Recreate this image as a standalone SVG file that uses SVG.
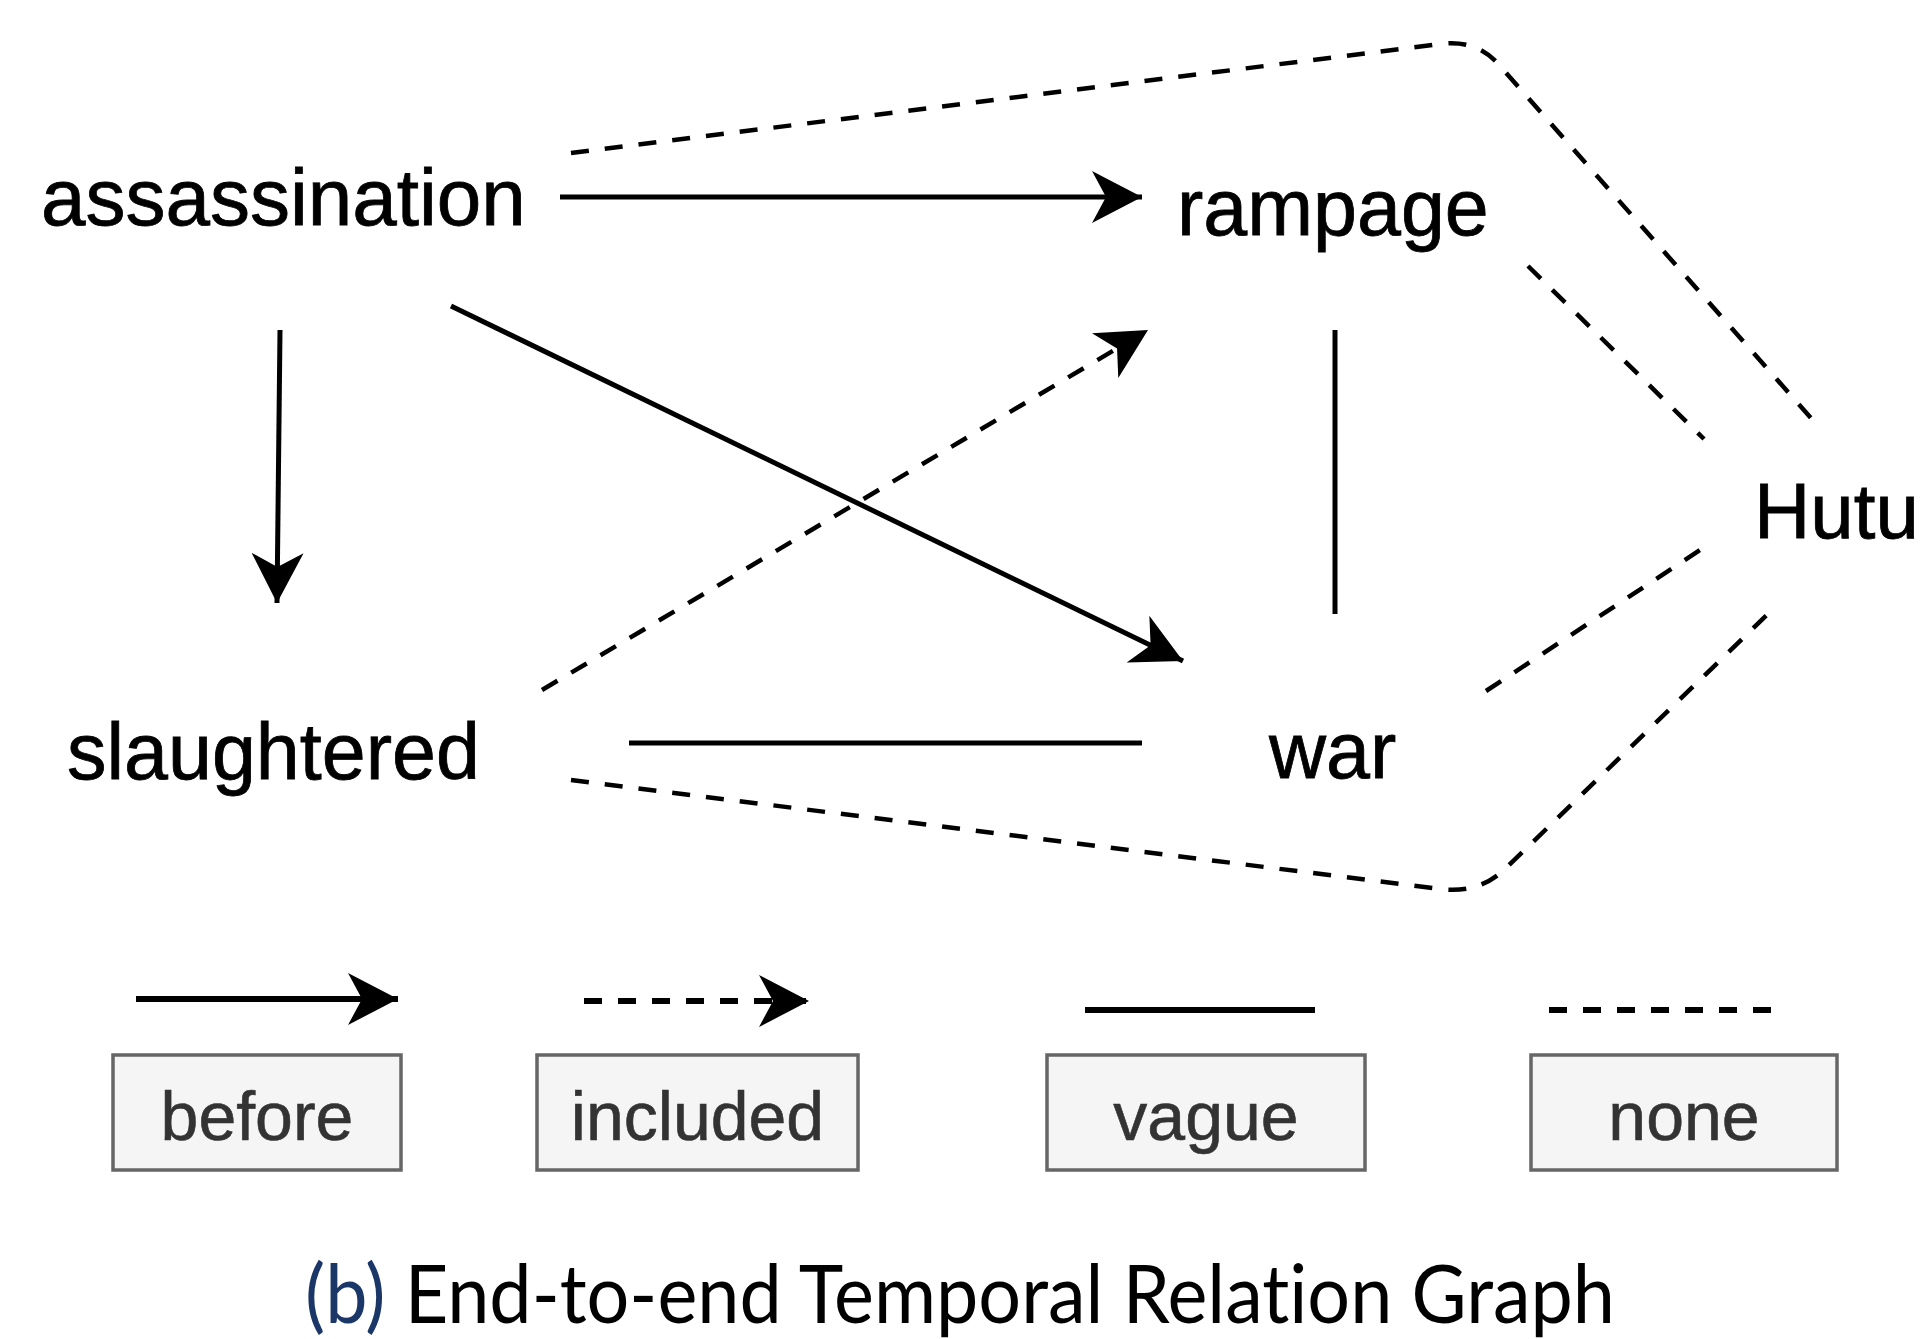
<svg xmlns="http://www.w3.org/2000/svg" width="1929" height="1339" viewBox="0 0 1929 1339">
  <style>
    .node { font-family: "Liberation Sans", Arial, Helvetica, sans-serif; fill: #000; stroke: #000; stroke-width: 0.8; }
    .edge { fill: none; stroke: #000; stroke-width: 5; }
    .dash { stroke-dasharray: 18 16; stroke-width: 4.5; }
    .thick { stroke-width: 6; }
    .key { fill: #f5f5f5; stroke: #666; stroke-width: 3.5; }
    .keytext { font-family: "Liberation Sans", Arial, Helvetica, sans-serif; font-size: 68px; fill: #333; stroke: #333; stroke-width: 0.6; text-anchor: middle; }
    .caption { font-family: Lato, "Open Sans", "DejaVu Sans", sans-serif; font-size: 82px; fill: #000; font-variant-ligatures: none; }
  </style>
  <defs>
    <marker id="head" viewBox="0 0 50 52" refX="50" refY="26" markerWidth="50" markerHeight="52" markerUnits="userSpaceOnUse" orient="auto">
      <path d="M50,26 L0,0 L14,26 L0,52 Z" fill="#000"/>
    </marker>
  </defs>
  <rect width="1929" height="1339" fill="#fff"/>

  <!-- event nodes -->
  <g id="node-assassination"><text class="node" x="41" y="225" font-size="80">assassination</text></g>
  <g id="node-rampage"><text class="node" x="1177" y="235" font-size="79">rampage</text></g>
  <g id="node-hutu"><text class="node" x="1754" y="538" font-size="78">Hutu</text></g>
  <g id="node-slaughtered"><text class="node" x="67" y="779" font-size="79">slaughtered</text></g>
  <g id="node-war"><text class="node" x="1269" y="778" font-size="79">war</text></g>

  <!-- relations between events -->
  <g id="connectors">
    <!-- before -->
    <line class="edge" x1="560" y1="197" x2="1142" y2="197" marker-end="url(#head)"/>
    <line class="edge" x1="280" y1="330" x2="277" y2="603" marker-end="url(#head)"/>
    <line class="edge" x1="451" y1="306" x2="1183" y2="661" marker-end="url(#head)"/>
    <!-- included -->
    <line class="edge dash" x1="542" y1="690" x2="1148" y2="330" marker-end="url(#head)"/>
    <!-- vague -->
    <line class="edge" x1="1335" y1="330" x2="1335" y2="614"/>
    <line class="edge" x1="629" y1="743" x2="1142" y2="743"/>
    <!-- none -->
    <path class="edge dash" d="M571,153 L1440,44 Q1478,39 1500,66 L1818,426"/>
    <line class="edge dash" x1="1528" y1="266" x2="1704" y2="439"/>
    <line class="edge dash" x1="1486" y1="691" x2="1700" y2="550"/>
    <path class="edge dash" d="M571,780 L1440,889 Q1479,894 1505,869 L1772,610"/>
  </g>

  <!-- legend -->
  <g id="legend-before">
    <line class="edge thick" x1="136" y1="999" x2="398" y2="999" marker-end="url(#head)"/>
    <rect class="key" x="113" y="1055" width="288" height="115"/>
    <text class="keytext" x="257" y="1140">before</text>
  </g>
  <g id="legend-included">
    <line class="edge dash thick" x1="584" y1="1001" x2="809" y2="1001" marker-end="url(#head)"/>
    <rect class="key" x="537" y="1055" width="321" height="115"/>
    <text class="keytext" x="697.5" y="1140">included</text>
  </g>
  <g id="legend-vague">
    <line class="edge thick" x1="1085" y1="1010" x2="1315" y2="1010"/>
    <rect class="key" x="1047" y="1055" width="318" height="115"/>
    <text class="keytext" x="1206" y="1140">vague</text>
  </g>
  <g id="legend-none">
    <line class="edge dash thick" x1="1549" y1="1010" x2="1774" y2="1010"/>
    <rect class="key" x="1531" y="1055" width="306" height="115"/>
    <text class="keytext" x="1684" y="1140">none</text>
  </g>

  <!-- caption -->
  <text class="caption" x="305" y="1323" textLength="1310" lengthAdjust="spacingAndGlyphs"><tspan fill="#1b3768">(b)</tspan> End-to-end Temporal Relation Graph</text>
</svg>
